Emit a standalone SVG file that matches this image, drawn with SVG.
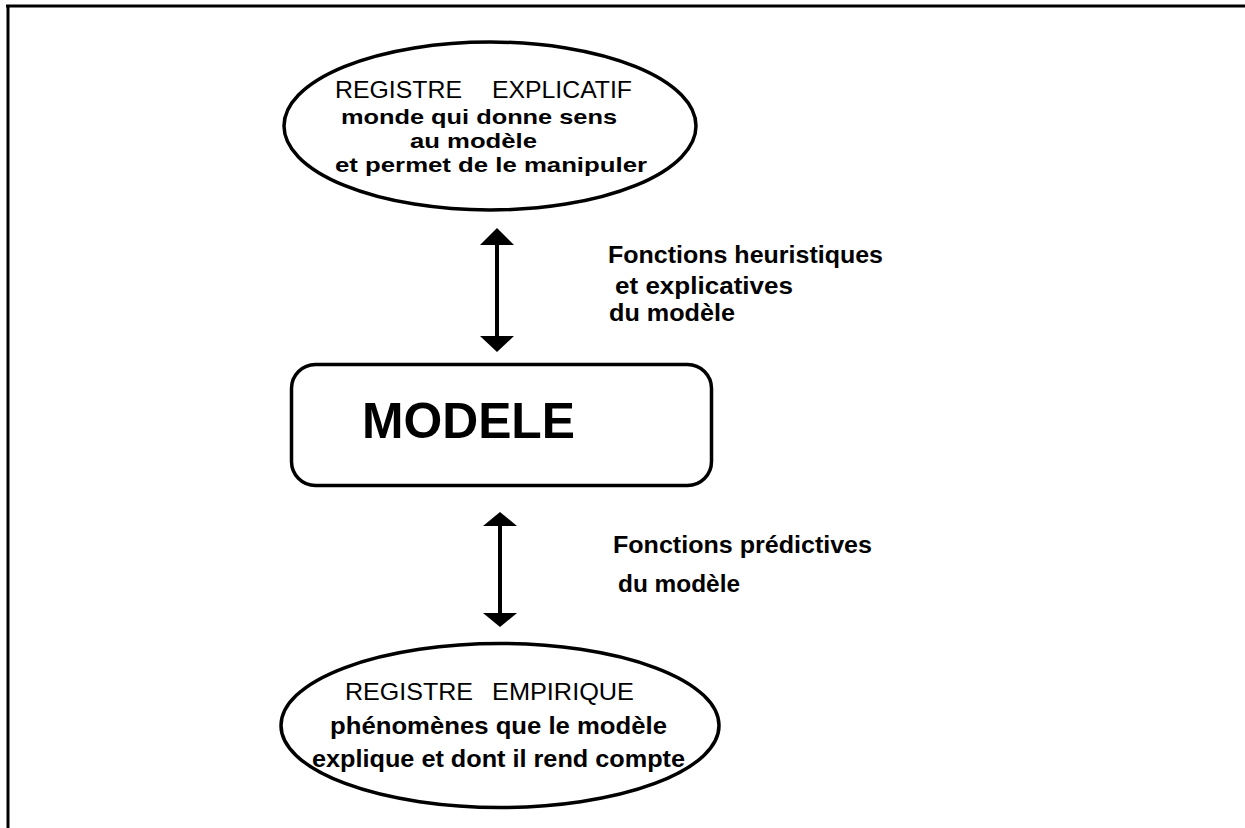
<svg xmlns="http://www.w3.org/2000/svg" width="1245" height="828" viewBox="0 0 1245 828">
<defs>
<style>
.ln{stroke:#000;stroke-width:3;fill:none}
.shape{stroke:#000;stroke-width:3.5;fill:#fff}
.t{font-family:"Liberation Sans",Arial,sans-serif;font-size:23px;fill:#000}
.h{font-size:24px}
.s{font-size:21px}
.b{font-weight:bold}
.big{font-family:"Liberation Sans",Arial,sans-serif;font-size:50px;font-weight:bold;fill:#000}
.head{fill:#000}
</style>
</defs>
<rect x="0" y="0" width="1245" height="828" fill="#fff"/>
<g id="frame">
<line class="ln" x1="6" y1="6" x2="1245" y2="6"/>
<line class="ln" x1="8" y1="5" x2="8" y2="828"/>
</g>
<g id="connectors">
<line x1="497" y1="240" x2="497" y2="340" stroke="#000" stroke-width="4"/>
<polygon class="head" points="497,228 514,245 480,245"/>
<polygon class="head" points="497,352 514,336 480,336"/>
<line x1="500" y1="522" x2="500" y2="616" stroke="#000" stroke-width="4"/>
<polygon class="head" points="500,512 517,526 483,526"/>
<polygon class="head" points="500,627 517,613 483,613"/>
</g>
<g id="registre-explicatif">
<ellipse class="shape" cx="490" cy="126" rx="206" ry="84"/>
<text class="t h" x="335" y="98" textLength="127" lengthAdjust="spacingAndGlyphs">REGISTRE</text>
<text class="t h" x="492" y="98" textLength="140" lengthAdjust="spacingAndGlyphs">EXPLICATIF</text>
<text class="t b s" x="341" y="124" textLength="276" lengthAdjust="spacingAndGlyphs">monde qui donne sens</text>
<text class="t b s" x="410" y="148" textLength="127" lengthAdjust="spacingAndGlyphs">au modèle</text>
<text class="t b s" x="335" y="172" textLength="312" lengthAdjust="spacingAndGlyphs">et permet de le manipuler</text>
</g>
<g id="modele">
<rect class="shape" x="291.5" y="364.5" width="420" height="121" rx="24" ry="24"/>
<text class="big" x="362" y="438" textLength="213" lengthAdjust="spacingAndGlyphs">MODELE</text>
</g>
<g id="registre-empirique">
<ellipse class="shape" cx="500" cy="725.5" rx="219" ry="82"/>
<text class="t h" x="345" y="700" textLength="128" lengthAdjust="spacingAndGlyphs">REGISTRE</text>
<text class="t h" x="492" y="700" textLength="142" lengthAdjust="spacingAndGlyphs">EMPIRIQUE</text>
<text class="t b" x="330" y="734" textLength="337" lengthAdjust="spacingAndGlyphs">phénomènes que le modèle</text>
<text class="t b" x="312" y="767" textLength="373" lengthAdjust="spacingAndGlyphs">explique et dont il rend compte</text>
</g>
<g id="label-heuristiques">
<text class="t b" x="608" y="263" textLength="275" lengthAdjust="spacingAndGlyphs">Fonctions heuristiques</text>
<text class="t b" x="615" y="294" textLength="178" lengthAdjust="spacingAndGlyphs">et explicatives</text>
<text class="t b" x="609" y="321" textLength="126" lengthAdjust="spacingAndGlyphs">du modèle</text>
</g>
<g id="label-predictives">
<text class="t b" x="613" y="553" textLength="259" lengthAdjust="spacingAndGlyphs">Fonctions prédictives</text>
<text class="t b" x="618" y="592" textLength="122" lengthAdjust="spacingAndGlyphs">du modèle</text>
</g>
</svg>
